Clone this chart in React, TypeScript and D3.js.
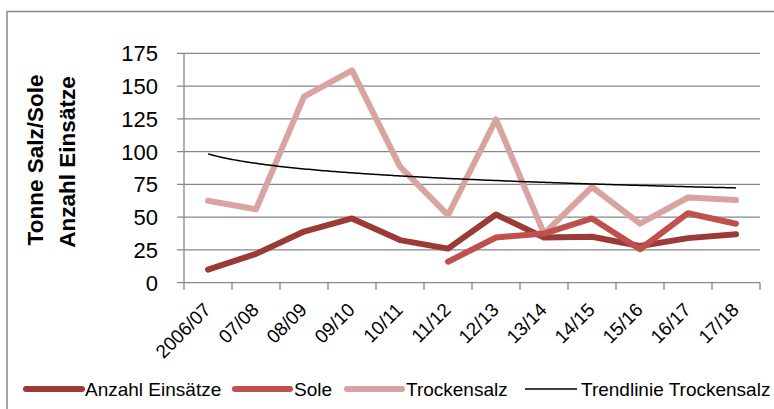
import React from "react";
import * as d3 from "d3";

const categories = ["2006/07", "07/08", "08/09", "09/10", "10/11", "11/12", "12/13", "13/14", "14/15", "15/16", "16/17", "17/18"];
const anzahlEinsaetze = [10, 22, 39, 49, 32.5, 26, 52, 34.5, 35, 28, 34, 37];
const sole: (number | null)[] = [null, null, null, null, null, 16, 34.5, 37.5, 49, 25.5, 53, 45];
const trockensalz = [62.5, 56, 142, 162, 88.5, 51.5, 124.5, 37.5, 73, 45, 65, 63];
const yTicks = [0, 25, 50, 75, 100, 125, 150, 175];
const legendLabels = ["Anzahl Einsätze", "Sole", "Trockensalz", "Trendlinie Trockensalz"];

const W = 774;
const H = 409;
const FONT = "'Liberation Sans', Arial, sans-serif";
const GRID = "#878787";
const C_ANZ = "#9C3A38";
const C_SOLE = "#C0504D";
const C_TROCK = "#D9A3A1";

export default function App() {
  const x = d3.scaleBand<string>().domain(categories).range([184, 760]);
  const y = d3.scaleLinear().domain([0, 175]).range([282.7, 53.3]);
  const cx = (i: number) => (x(categories[i]) as number) + x.bandwidth() / 2;

  const line = d3
    .line<number | null>()
    .defined((d) => d !== null)
    .x((_, i) => cx(i))
    .y((d) => y(d as number));

  // logarithmic trendline fitted to Trockensalz (x = 1..n)
  const lx = trockensalz.map((_, i) => Math.log(i + 1));
  const mx = d3.mean(lx) as number;
  const my = d3.mean(trockensalz) as number;
  let sxy = 0;
  let sxx = 0;
  lx.forEach((v, i) => {
    sxy += (v - mx) * (trockensalz[i] - my);
    sxx += (v - mx) * (v - mx);
  });
  const b = sxy / sxx;
  const a = my - b * mx;
  const step = x.step();
  const trendPts = d3.range(1, categories.length + 0.001, 0.05).map((t) => [cx(0) + (t - 1) * step, y(a + b * Math.log(t))] as [number, number]);
  const trendPath = d3.line()(trendPts) as string;

  const legendItems = [
    { label: legendLabels[0], color: C_ANZ, w: 6, x0: 26, x1: 82, tx: 85 },
    { label: legendLabels[1], color: C_SOLE, w: 6, x0: 235, x1: 290, tx: 294 },
    { label: legendLabels[2], color: C_TROCK, w: 6, x0: 347, x1: 402, tx: 406 },
    { label: legendLabels[3], color: "#000", w: 1.5, x0: 525, x1: 577, tx: 581 },
  ];

  return (
    <div style={{ position: "fixed", left: 0, top: 0, width: W, height: H, background: "#fff" }}>
      <svg width={W} height={H} style={{ display: "block" }}>
        <rect x={0} y={0} width={W} height={H} fill="#fff" />
        {/* outer chart border */}
        <path d={`M7,${H + 5}V11.5H${W + 5}`} fill="none" stroke={GRID} strokeWidth={1.5} />

        {/* gridlines and y ticks */}
        {yTicks.map((t) => (
          <g key={t}>
            <line x1={177} x2={760} y1={y(t)} y2={y(t)} stroke={GRID} strokeWidth={1.3} />
            <text x={158} y={y(t)} dy="0.36em" textAnchor="end" fontFamily={FONT} fontSize={22} fill="#000">
              {t}
            </text>
          </g>
        ))}
        {/* y axis */}
        <line x1={184} x2={184} y1={y(175)} y2={y(0)} stroke={GRID} strokeWidth={1.3} />
        {/* x tick marks */}
        {d3.range(categories.length + 1).map((i) => (
          <line key={i} x1={184 + i * step} x2={184 + i * step} y1={y(0)} y2={y(0) + 7} stroke={GRID} strokeWidth={1.3} />
        ))}
        {/* x labels */}
        {categories.map((c, i) => (
          <text
            key={c}
            transform={`translate(${cx(i) + 4},${311}) rotate(-45)`}
            textAnchor="end"
            fontFamily={FONT}
            fontSize={19}
            fill="#000"
          >
            {c}
          </text>
        ))}

        {/* y title */}
        <g transform="translate(34.5,160) rotate(-90)">
          <text textAnchor="middle" dy="0.36em" fontFamily={FONT} fontWeight="bold" fontSize={22.5} fill="#000">
            Tonne Salz/Sole
          </text>
        </g>
        <g transform="translate(66.5,162) rotate(-90)">
          <text textAnchor="middle" dy="0.36em" fontFamily={FONT} fontWeight="bold" fontSize={22.5} fill="#000">
            Anzahl Einsätze
          </text>
        </g>

        {/* series */}
        <path d={line(trockensalz) as string} fill="none" stroke={C_TROCK} strokeWidth={6} strokeLinejoin="round" strokeLinecap="round" />
        <path d={line(anzahlEinsaetze) as string} fill="none" stroke={C_ANZ} strokeWidth={6} strokeLinejoin="round" strokeLinecap="round" />
        <path d={line(sole) as string} fill="none" stroke={C_SOLE} strokeWidth={6} strokeLinejoin="round" strokeLinecap="round" />
        <path d={trendPath} fill="none" stroke="#000" strokeWidth={1.5} />

        {/* legend */}
        {legendItems.map((it) => (
          <g key={it.label}>
            <line x1={it.x0} x2={it.x1} y1={389} y2={389} stroke={it.color} strokeWidth={it.w} strokeLinecap={it.w > 2 ? "round" : "butt"} />
            <text x={it.tx} y={389} dy="0.36em" fontFamily={FONT} fontSize={19} fill="#000">
              {it.label}
            </text>
          </g>
        ))}
      </svg>
    </div>
  );
}
